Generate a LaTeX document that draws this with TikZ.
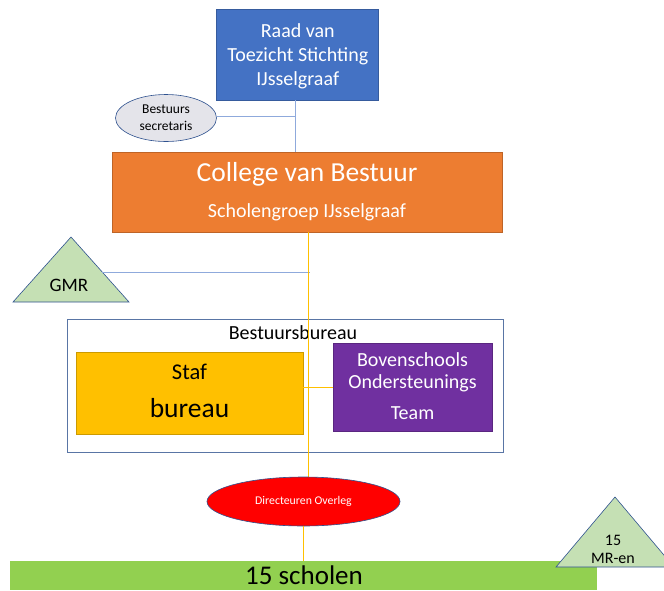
\documentclass[tikz,border=0pt]{standalone}
\usepackage{fontspec}
\setmainfont{Carlito}
\usetikzlibrary{shapes.geometric}
\definecolor{rvt}{HTML}{4472C4}
\definecolor{cvbor}{HTML}{ED7D31}
\definecolor{stafy}{HTML}{FFC000}
\definecolor{bostp}{HTML}{7030A0}
\definecolor{schg}{HTML}{92D050}
\definecolor{trig}{HTML}{C5E0B4}
\definecolor{ellg}{HTML}{E4E4EA}
\definecolor{bordb}{HTML}{2F528F}
\definecolor{lineb}{HTML}{8FAADC}
\definecolor{liney}{HTML}{FFC000}
\tikzset{
  box/.style={rectangle, inner sep=0pt, draw=#1!80!black, line width=0.6pt},
  bluel/.style={draw=lineb, line width=0.8pt},
  yell/.style={draw=liney, line width=0.9pt},
  txt/.style={inner sep=0pt, align=center},
}
\begin{document}
\begin{tikzpicture}[x=1pt,y=-1pt]
\useasboundingbox (0,0) rectangle (664,590);
% nodes
\node[box=rvt, fill=rvt, minimum width=162pt, minimum height=91pt] (raad) at (297.75,54.65) {};
\node[txt, text=white, font=\fontsize{20}{24}\selectfont] at (297.75,31) {Raad van};
\node[txt, text=white, font=\fontsize{20}{24}\selectfont] at (297.75,56) {Toezicht Stichting};
\node[txt, text=white, font=\fontsize{20}{24}\selectfont] at (297.75,80) {IJsselgraaf};

\node[ellipse, draw=bordb, line width=0.6pt, fill=ellg, minimum width=101pt, minimum height=47pt, inner sep=0pt, align=center, font=\fontsize{13.5}{17}\selectfont] (secr) at (166,118) {Bestuurs\\secretaris};

\node[box=cvbor, fill=cvbor, minimum width=390pt, minimum height=80pt] (cvb) at (307,192) {};
\node[txt, text=white, font=\fontsize{27.5}{32}\selectfont] at (307,174) {College van Bestuur};
\node[txt, text=white, font=\fontsize{20}{24}\selectfont] at (307,212) {Scholengroep IJsselgraaf};

% connectors
\coordinate (j) at (295,116);
\draw[bluel] (raad.south -| j) -- (cvb.north -| j);
\draw[bluel] (secr.east |- j) -- (j);

\coordinate (ytop) at (308,232);
\coordinate (ydir) at (308,478);

% GMR triangle
\coordinate (gA) at (71,237);
\coordinate (gB) at (13,302);
\coordinate (gC) at (129,302);
\draw[draw=bordb, line width=0.6pt, fill=trig] (gA) -- (gB) -- (gC) -- cycle;
\node[txt, font=\fontsize{19}{22}\selectfont] (gmr) at (69,285) {GMR};
\coordinate (gR) at (102.2,272);
\coordinate (gE) at (310,272);
\draw[bluel] (gR) -- (gE);

% Bestuursbureau
\node[rectangle, draw=bordb!80, line width=0.8pt, minimum width=436pt, minimum height=133pt, inner sep=0pt] (bb) at (285,385.5) {};
\node[txt, font=\fontsize{20}{24}\selectfont] at (293,333) {Bestuursbureau};

\node[box=stafy, fill=stafy, minimum width=227pt, minimum height=82pt] (staf) at (189.5,393) {};
\node[txt, font=\fontsize{22.5}{26}\selectfont] at (189.5,372) {Staf};
\node[txt, font=\fontsize{27.5}{32}\selectfont] at (189.5,408) {bureau};

\node[box=bostp, fill=bostp, minimum width=159pt, minimum height=88pt] (bost) at (412.5,387) {};
\node[txt, text=white, font=\fontsize{20}{24}\selectfont] at (412.5,360) {Bovenschools};
\node[txt, text=white, font=\fontsize{20}{24}\selectfont] at (412.5,383) {Ondersteunings};
\node[txt, text=white, font=\fontsize{20}{24}\selectfont] at (412.5,413) {Team};
\draw[yell] (staf.east |- bost.west) -- (bost.west);
\draw[yell] (ytop) -- (ydir);

% Directeuren overleg
\node[ellipse, draw=bordb, line width=0.6pt, fill=red, minimum width=193pt, minimum height=49pt, inner sep=0pt, text=white, font=\fontsize{11.8}{14}\selectfont] (dir) at (303.5,501.5) {Directeuren Overleg};

% scholen
\node[rectangle, fill=schg, inner sep=0pt, minimum width=587pt, minimum height=29pt] (sch) at (303.5,575.5) {};
\node[txt, font=\fontsize{27}{32}\selectfont] at (304,575) {15 scholen};
\draw[yell] (dir.south -| 303,0) -- (sch.north -| 303,0);

% MR triangle
\begin{scope}
\clip (0,0) rectangle (664,590);
\coordinate (mA) at (615,497);
\coordinate (mB) at (556,567);
\coordinate (mC) at (674,567);
\draw[draw=bordb, line width=0.6pt, fill=trig] (mA) -- (mB) -- (mC) -- cycle;
\end{scope}
\node[txt, align=center, font=\fontsize{16}{18}\selectfont] (mr) at (613,549.5) {15\\MR-en};
\end{tikzpicture}
\end{document}
